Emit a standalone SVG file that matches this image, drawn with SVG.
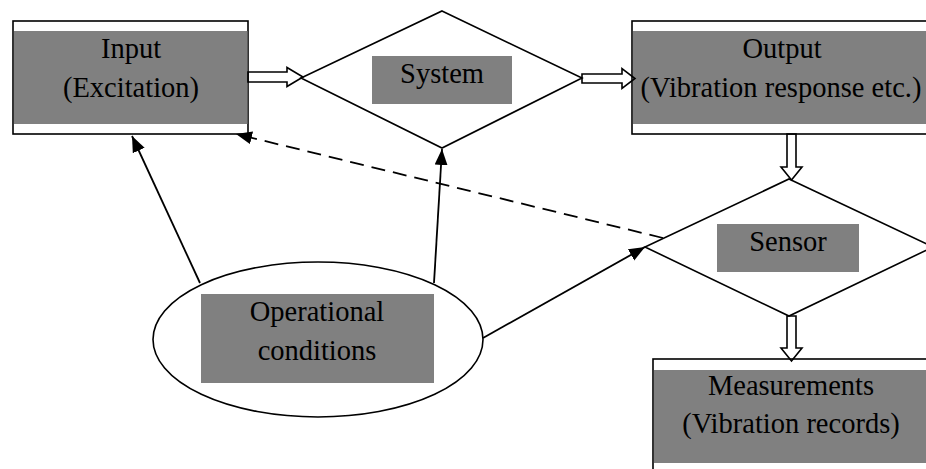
<svg xmlns="http://www.w3.org/2000/svg" width="926" height="469" viewBox="0 0 926 469">
  <style>
    .frame { fill: #ffffff; stroke: #000000; stroke-width: 1.6; }
    .band { fill: #808080; stroke: none; }
    .label { font-family: "Liberation Serif", "Times New Roman", serif; font-size: 28.5px; fill: #000000; text-anchor: middle; }
    .hollow { fill: none; stroke: #000000; stroke-width: 1.6; stroke-linejoin: miter; }
    .link { fill: none; stroke: #000000; stroke-width: 1.8; marker-end: url(#tip); }
    .dashed { stroke-dasharray: 14 8; }
  </style>
  <defs>
    <marker id="tip" markerUnits="userSpaceOnUse" markerWidth="17" markerHeight="14" refX="16" refY="6.5" orient="auto">
      <path d="M0,0 L16,6.5 L0,13 Z" fill="#000000" stroke="none"/>
    </marker>
  </defs>

  <rect x="0" y="0" width="926" height="469" fill="#ffffff"/>

  <!-- Input box -->
  <g id="input">
    <rect class="frame" x="13" y="21" width="235" height="113"/>
    <rect class="band" x="14" y="31" width="233.5" height="93"/>
    <text class="label" x="131" y="58">Input</text>
    <text class="label" x="131" y="97">(Excitation)</text>
  </g>

  <!-- System diamond -->
  <g id="system">
    <polygon class="frame" points="442,11 582,78 442,148 301,78"/>
    <rect class="band" x="372" y="56" width="140" height="48"/>
    <text class="label" x="442" y="83">System</text>
  </g>

  <!-- Output box (runs off the right edge) -->
  <g id="output">
    <rect class="frame" x="632" y="21" width="300" height="113"/>
    <rect class="band" x="633" y="31" width="298" height="93"/>
    <text class="label" x="782" y="58">Output</text>
    <text class="label" x="781" y="97">(Vibration response etc.)</text>
  </g>

  <!-- Sensor diamond -->
  <g id="sensor">
    <polygon class="frame" points="789,179 933,247 789,316 645,247"/>
    <rect class="band" x="717" y="224" width="142" height="48"/>
    <text class="label" x="788" y="251">Sensor</text>
  </g>

  <!-- Measurements box -->
  <g id="measurements">
    <rect class="frame" x="653" y="359" width="280" height="120"/>
    <rect class="band" x="654" y="370" width="278" height="93"/>
    <text class="label" x="791" y="395">Measurements</text>
    <text class="label" x="791" y="433">(Vibration records)</text>
  </g>

  <!-- Operational conditions ellipse -->
  <g id="conditions">
    <ellipse class="frame" cx="318" cy="339.5" rx="165" ry="77.5"/>
    <rect class="band" x="201" y="294" width="233" height="89"/>
    <text class="label" x="317" y="321">Operational</text>
    <text class="label" x="317" y="360">conditions</text>
  </g>

  <g id="connectors">
    <!-- hollow flow arrows -->
    <polygon class="hollow" points="248,72 287,72 287,67.5 303,77 287,86.5 287,82 248,82"/>
    <polygon class="hollow" points="582,74 622,74 622,68.5 635,78.5 622,88.5 622,83 582,83"/>
    <polygon class="hollow" points="787,134 787,167 781,167 791.5,180 802,167 796,167 796,134"/>
    <polygon class="hollow" points="787,316 787,348 781,348 791.5,361 802,348 796,348 796,316"/>
    <!-- influence arrows -->
    <line class="link" x1="200" y1="283" x2="132" y2="136"/>
    <line class="link" x1="434" y1="283" x2="442" y2="149"/>
    <line class="link" x1="483" y1="338" x2="645" y2="247"/>
    <line class="link dashed" x1="663" y1="238" x2="236" y2="134"/>
  </g>
</svg>
